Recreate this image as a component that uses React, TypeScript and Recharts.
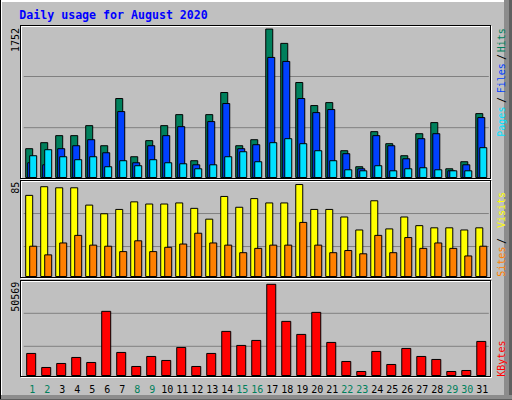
import { BarChart, Bar, XAxis, YAxis, ReferenceLine } from "recharts"

// daily figures
const days = ["1", "2", "3", "4", "5", "6", "7", "8", "9", "10", "11", "12", "13", "14", "15", "16",
  "17", "18", "19", "20", "21", "22", "23", "24", "25", "26", "27", "28", "29", "30", "31"]
const weekendDays = ["1", "2", "8", "9", "15", "16", "22", "23", "29", "30"]

const hits = [340, 411, 494, 494, 612, 375, 932, 245, 435, 612, 742, 198, 742, 1003, 375, 446,
  1752, 1583, 1121, 849, 884, 316, 127, 541, 399, 257, 517, 648, 103, 186, 754]
const files = [174, 150, 340, 375, 446, 292, 778, 174, 375, 494, 600, 150, 660, 873, 340, 387,
  1417, 1370, 932, 766, 802, 281, 103, 494, 375, 221, 458, 517, 79, 150, 707]
const pages = [257, 328, 245, 210, 245, 127, 198, 139, 210, 174, 162, 103, 150, 245, 304, 186,
  411, 458, 399, 316, 198, 91, 79, 139, 79, 103, 115, 91, 79, 79, 352]

const visits = [75, 83, 82, 82, 66, 58, 62, 69, 67, 67, 68, 63, 53, 74, 64, 72,
  68, 68, 85, 62, 62, 55, 43, 70, 44, 55, 47, 45, 45, 43, 45]
const sites = [28, 20, 31, 38, 29, 28, 23, 33, 23, 27, 30, 40, 31, 29, 22, 26,
  29, 29, 50, 29, 22, 24, 21, 38, 22, 36, 26, 31, 26, 19, 28]

const kbytes = [12225, 4446, 6668, 10003, 7224, 35565, 12781, 5001, 10558, 8336, 15560, 5001, 12225, 24451, 16671, 19450,
  50569, 30008, 22784, 35009, 18338, 7780, 2223, 13337, 6113, 15004, 10558, 8891, 2223, 2779, 18894]

// grid line values (1/3 and 2/3 of each panel)
const hitsGrid = [588, 1192]
const visitsGrid = [27.7, 58.2]
const kbytesGrid = [16191, 34489]

const title = "Daily usage for August 2020"

const usageData = days.map((day, i) => ({
  day,
  hits: hits[i],
  files: files[i],
  pages: pages[i],
  visits: visits[i],
  sites: sites[i],
  kbytes: kbytes[i],
}))

const mono = "DejaVu Sans Mono"

function DayTick(props: any) {
  const { x, y, payload } = props
  const weekend = weekendDays.includes(payload.value)
  return (
    <text x={x + 1} y={y + 17.5} textAnchor="middle" fontFamily={mono} fontSize={10}
      fill={weekend ? "#00805C" : "#000000"}>
      {payload.value}
    </text>
  )
}

// engraved panel border: black top/left, white shadow bottom/right
function Frame({ y, h }: { y: number; h: number }) {
  return (
    <g>
      <rect x={21.5} y={y + 1.5} width={470} height={h} fill="none" stroke="#ffffff" />
      <rect x={20.5} y={y + 0.5} width={470} height={h} fill="none" stroke="#000000" />
    </g>
  )
}

interface PanelProps {
  top: number
  bottom: number
  max: number
  grid: number[]
  barSize: number
  barGap?: number
  showDays?: boolean
  children: any
}

function Panel({ top, bottom, max, grid, barSize, barGap, showDays, children }: PanelProps) {
  const margin = { top, left: 23.7, right: 23.2, bottom: 0 }
  const xAxis = showDays
    ? <XAxis dataKey="day" height={400 - bottom} axisLine={false} tickLine={false} tickSize={0}
        tickMargin={0} interval={0} tick={DayTick} />
    : <XAxis dataKey="day" hide />
  return (
    <div style={{ position: "absolute", left: 0, top: 0 }}>
      <BarChart width={512} height={showDays ? 400 : bottom} data={usageData} margin={margin}
        barSize={barSize} barGap={barGap}>
        {xAxis}
        <YAxis hide domain={[0, max]} />
        {/* area layer sits below the bar layer */}
        {grid.map((v) => (
          <ReferenceLine key={v} y={v} stroke="#808080" strokeWidth={1} zIndex={100} />
        ))}
        {children}
      </BarChart>
    </div>
  )
}

export default function App() {
  return (
    <div style={{ position: "absolute", left: 0, top: 0, width: 512, height: 400 }}>
      <svg width={512} height={400} style={{ position: "absolute", left: 0, top: 0 }}>
        <rect x={0} y={0} width={512} height={400} fill="#C0C0C0" />
        <rect x={504} y={0} width={8} height={400} fill="#8c8c8c" />
        <rect x={509} y={0} width={3} height={400} fill="#606060" />
        <rect x={0} y={395} width={512} height={5} fill="#8c8c8c" />
        <rect x={0} y={399} width={512} height={1} fill="#606060" />
        <rect x={0} y={0} width={504} height={2} fill="#ffffff" />
        <rect x={0} y={0} width={2} height={395} fill="#ffffff" />
        <rect x={0} y={0} width={1} height={399} fill="#000000" />

        <text x={19.3} y={19.3} fontFamily={mono} fontWeight="bold" fontSize={11.6} fill="#0000FF">
          {title}
        </text>

        <Frame y={25} h={153} />
        <Frame y={180} h={97} />
        <Frame y={280} h={96} />

        <g fontFamily={mono} fontSize={10} fill="#000000">
          <text transform="translate(19.3,28) rotate(-90)" textAnchor="end">1752</text>
          <text transform="translate(19.3,181.7) rotate(-90)" textAnchor="end">85</text>
          <text transform="translate(19.3,281.7) rotate(-90)" textAnchor="end">50569</text>
        </g>

        <g fontFamily={mono} fontSize={10}>
          <text transform="translate(505,136.7) rotate(-90)" fill="#00E0FF">Pages</text>
          <text transform="translate(505,103) rotate(-90)" fill="#000000">/</text>
          <text transform="translate(505,93.3) rotate(-90)" fill="#0040FF">Files</text>
          <text transform="translate(505,60) rotate(-90)" fill="#000000">/</text>
          <text transform="translate(505,52.3) rotate(-90)" fill="#00805C">Hits</text>

          <text transform="translate(505,276.7) rotate(-90)" fill="#FF8000">Sites</text>
          <text transform="translate(505,244) rotate(-90)" fill="#000000">/</text>
          <text transform="translate(505,228) rotate(-90)" fill="#FFFF00">Visits</text>

          <text transform="translate(505,376.7) rotate(-90)" fill="#FF0000">KBytes</text>
        </g>
      </svg>

      <Panel top={25} bottom={177.5} max={1800} grid={hitsGrid} barSize={7} barGap={-5}>
        <Bar dataKey="hits" fill="#00805C" stroke="#000000" isAnimationActive={false} />
        <Bar dataKey="files" fill="#0040FF" stroke="#000000" isAnimationActive={false} />
        <Bar dataKey="pages" fill="#00E0FF" stroke="#000000" isAnimationActive={false} />
      </Panel>

      <Panel top={180} bottom={276.5} max={89.2} grid={visitsGrid} barSize={7} barGap={-3}>
        <Bar dataKey="visits" fill="#FFFF00" stroke="#000000" isAnimationActive={false} />
        <Bar dataKey="sites" fill="#FF8000" stroke="#000000" isAnimationActive={false} />
      </Panel>

      <Panel top={280} bottom={375.5} max={52953} grid={kbytesGrid} barSize={9} showDays>
        <Bar dataKey="kbytes" fill="#FF0000" stroke="#000000" isAnimationActive={false} />
      </Panel>
    </div>
  )
}
